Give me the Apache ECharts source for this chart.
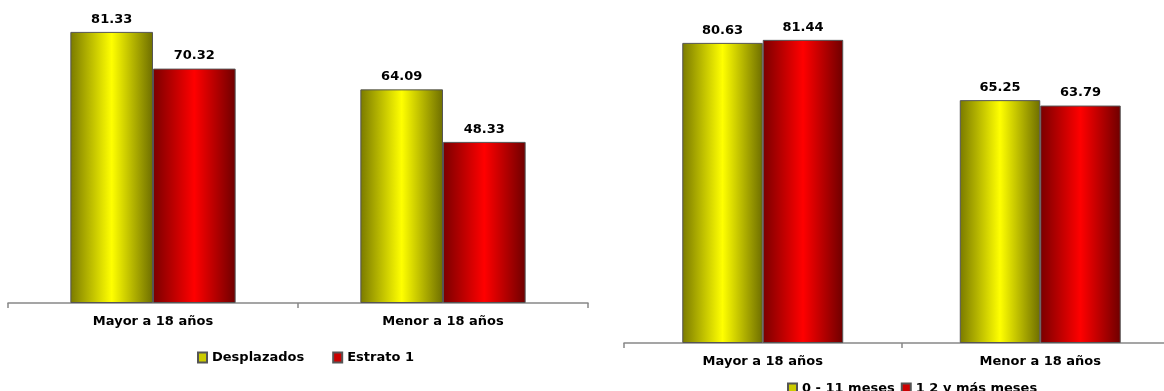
<!DOCTYPE html>
<html>
<head>
<meta charset="utf-8">
<script src="https://cdn.jsdelivr.net/npm/echarts@6/dist/echarts.min.js"></script>
<style>
  html, body { margin: 0; padding: 0; background: #fff; overflow: hidden; }
  #chart { width: 1180px; height: 391px; }
</style>
</head>
<body>
<div id="chart"></div>
<script>
var categories = ['Mayor a 18 años', 'Menor a 18 años']
var desplazados = [81.33, 64.09]
var estrato1 = [70.32, 48.33]
var meses0a11 = [80.63, 65.25]
var meses12ymas = [81.44, 63.79]

function grad(edgeL, mid, edgeR) {
    return new echarts.graphic.LinearGradient(0, 0, 1, 0, [
        { offset: 0, color: edgeL },
        { offset: 0.5, color: mid },
        { offset: 1, color: edgeR }
    ])
}
var yellowFill = grad('#7a7a00', '#ffff00', '#6e6e00')
var redFill = grad('#7a0000', '#ff0000', '#6e0000')

var font = 'DejaVu Sans, Verdana, sans-serif'

function barSeries(name, data, fill, idx, gap) {
    return {
        name: name,
        type: 'bar',
        xAxisIndex: idx,
        yAxisIndex: idx,
        data: data,
        barGap: '0%',
        barCategoryGap: gap,
        itemStyle: { color: fill, borderColor: '#555', borderWidth: 1 },
        label: {
            show: true,
            position: 'top',
            distance: 6,
            color: '#000',
            fontFamily: font,
            fontWeight: 'bold',
            fontSize: 13,
            formatter: function (p) { return p.value.toFixed(2) }
        }
    }
}

function xAx(idx) {
    return {
        type: 'category',
        gridIndex: idx,
        data: categories,
        axisLine: { lineStyle: { color: '#888', width: 1.5 } },
        axisTick: { show: true, length: 5, lineStyle: { color: '#888', width: 1.5 } },
        axisLabel: { color: '#000', fontFamily: font, fontWeight: 'bold', fontSize: 13, margin: 12 }
    }
}

function yAx(idx) {
    return {
        type: 'value',
        gridIndex: idx,
        min: 0,
        max: 90,
        show: false,
        splitLine: { show: false }
    }
}

var legendText = { color: '#000', fontFamily: font, fontWeight: 'bold', fontSize: 13 }

var chart = echarts.init(document.getElementById('chart'))
chart.setOption({
    animation: false,
    grid: [
        { left: 8, width: 580, top: 3, height: 300 },
        { left: 624, width: 555, top: 8, height: 335 }
    ],
    legend: [
        {
            data: [
                { name: 'Desplazados', itemStyle: { color: '#cccc00' } },
                { name: 'Estrato 1', itemStyle: { color: '#cc0000' } }
            ],
            left: 192, top: 346,
            itemWidth: 9, itemHeight: 10, itemGap: 28,
            icon: 'rect',
            textStyle: legendText
        },
        {
            data: [
                { name: '0 - 11 meses', itemStyle: { color: '#cccc00' } },
                { name: '1 2 y más meses', itemStyle: { color: '#cc0000' } }
            ],
            left: 782, top: 377,
            itemWidth: 9, itemHeight: 10, itemGap: 6,
            icon: 'rect',
            textStyle: legendText
        }
    ],
    xAxis: [xAx(0), xAx(1)],
    yAxis: [yAx(0), yAx(1)],
    series: [
        barSeries('Desplazados', desplazados, yellowFill, 0, '43%'),
        barSeries('Estrato 1', estrato1, redFill, 0, '43%'),
        barSeries('0 - 11 meses', meses0a11, yellowFill, 1, '42%'),
        barSeries('1 2 y más meses', meses12ymas, redFill, 1, '42%')
    ]
})
</script>
</body>
</html>
